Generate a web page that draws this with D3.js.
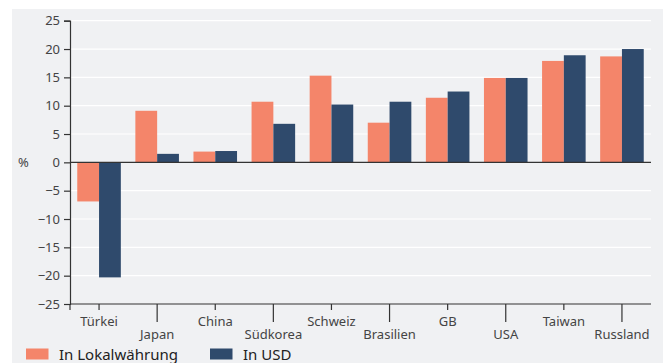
<!DOCTYPE html>
<html>
<head>
<meta charset="utf-8">
<script src="https://cdn.jsdelivr.net/npm/d3@7"></script>
<style>
  html, body { margin: 0; padding: 0; background: #ffffff; }
  svg { display: block; }
  text { font-family: "Noto Sans", sans-serif; }
</style>
</head>
<body>
<svg id="chart" width="669" height="363"></svg>
<script>
// Countries along the x axis
const categories = ["Türkei", "Japan", "China", "Südkorea", "Schweiz", "Brasilien", "GB", "USA", "Taiwan", "Russland"];
// Change in local currency, %
const localValues = [-6.9, 9.1, 1.9, 10.7, 15.3, 7.0, 11.4, 14.9, 17.9, 18.7];
// Change in US dollars, %
const usdValues = [-20.3, 1.5, 2.0, 6.8, 10.2, 10.7, 12.5, 14.9, 18.9, 20.0];
// Y axis ticks
const yTicks = [-25, -20, -15, -10, -5, 0, 5, 10, 15, 20, 25];
const seriesNames = ["In Lokalwährung", "In USD"];
const seriesColors = ["#f4856a", "#2f4a6c"];

(function () {
const svg = d3.select("#chart");
const H = 363;
const FONT = "'Noto Sans', sans-serif";

// Grey panel
svg.append("rect").attr("x", 12).attr("y", 9).attr("width", 651).attr("height", H - 9).attr("fill", "#f0f1f3");

const mLeft = 70, mRight = 651, mTop = 20.7, mBottom = 304;

const x = d3.scaleBand().domain(categories).range([mLeft, mRight]).paddingInner(0.25).paddingOuter(0.125);
const xg = d3.scaleBand().domain([0, 1]).range([0, x.bandwidth()]);
const y = d3.scaleLinear().domain([-25, 25]).range([mBottom, mTop]);

// Gridlines
svg.append("g").selectAll("line").data(yTicks.filter(t => t !== -25 && t !== 0)).join("line")
  .attr("x1", mLeft).attr("x2", mRight)
  .attr("y1", d => y(d)).attr("y2", d => y(d))
  .attr("stroke", "#ffffff").attr("stroke-width", 1.2);

// Bars
const groups = svg.append("g").selectAll("g").data(categories).join("g")
  .attr("transform", d => `translate(${x(d)},0)`);
groups.each(function (c, i) {
  const vals = [localValues[i], usdValues[i]];
  d3.select(this).selectAll("rect").data(vals).join("rect")
    .attr("x", (v, j) => xg(j))
    .attr("width", xg.bandwidth())
    .attr("y", v => y(Math.max(0, v)))
    .attr("height", v => Math.abs(y(v) - y(0)))
    .attr("fill", (v, j) => seriesColors[j]);
});

// Zero line
svg.append("line").attr("x1", mLeft).attr("x2", mRight).attr("y1", y(0)).attr("y2", y(0))
  .attr("stroke", "#333").attr("stroke-width", 1.2);

// Y axis
const yAxis = svg.append("g").attr("transform", `translate(${mLeft},0)`)
  .call(d3.axisLeft(y).tickValues(yTicks).tickSize(6).tickPadding(4).tickFormat(d3.format("d")));
yAxis.select(".domain").attr("stroke", "#333").attr("stroke-width", 1.2);
yAxis.selectAll(".tick line").attr("stroke", "#333").attr("stroke-width", 1.2);
yAxis.selectAll(".tick text").attr("fill", "#444").attr("font-size", 13).attr("font-family", FONT);

svg.append("text").attr("x", 18).attr("y", y(0)).attr("dy", "0.35em")
  .attr("font-size", 13).attr("fill", "#444").text("%");

// X axis with staggered labels
const xAxis = svg.append("g").attr("transform", `translate(0,${mBottom})`);
xAxis.append("line").attr("x1", mLeft).attr("x2", mRight).attr("y1", 0).attr("y2", 0)
  .attr("stroke", "#333").attr("stroke-width", 1.2);
xAxis.append("line").attr("x1", mLeft).attr("x2", mLeft).attr("y1", 0).attr("y2", 6)
  .attr("stroke", "#333").attr("stroke-width", 1.2);
const xt = xAxis.selectAll("g.tick").data(categories).join("g").attr("class", "tick")
  .attr("transform", d => `translate(${x(d) + x.bandwidth() / 2},0)`);
xt.append("line").attr("y1", 0).attr("y2", (d, i) => i % 2 ? 18 : 6)
  .attr("stroke", "#333").attr("stroke-width", 1.2);
xt.append("text").attr("text-anchor", "middle")
  .attr("y", (d, i) => i % 2 ? 30 : 17)
  .attr("dy", "0.35em")
  .attr("font-size", 13).attr("fill", "#444").text(d => d);

// Legend
const legend = svg.append("g");
const legendX = [26, 210];
seriesNames.forEach((name, i) => {
  legend.append("rect").attr("x", legendX[i]).attr("y", 348.5).attr("width", 22.5).attr("height", 11)
    .attr("fill", seriesColors[i]);
  legend.append("text").attr("x", legendX[i] + 33).attr("y", 354).attr("dy", "0.38em")
    .attr("font-size", 15).attr("fill", "#222").text(name);
});
})();
</script>
</body>
</html>
